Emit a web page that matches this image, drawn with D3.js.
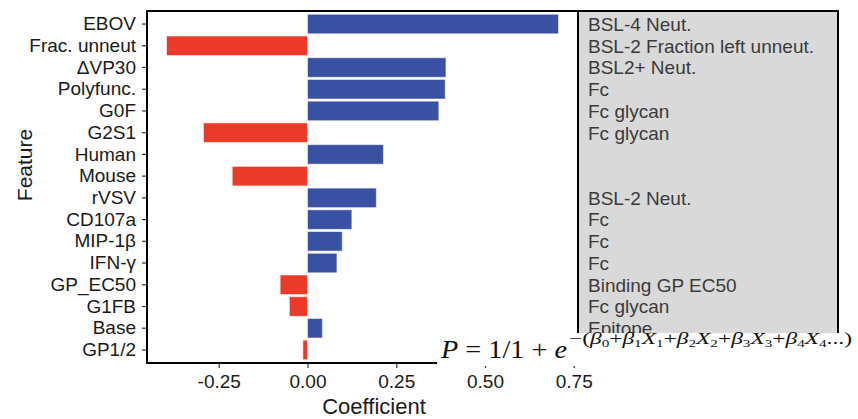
<!DOCTYPE html>
<html>
<head>
<meta charset="utf-8">
<script src="https://cdn.jsdelivr.net/npm/d3@7"></script>
<style>
  body { margin: 0; background: #fff; }
  text { font-family: "Liberation Sans", Arial, sans-serif; }
</style>
</head>
<body>
<div class="chart"></div>
<script>
// features top to bottom, with model coefficient and assay group
const features = ["EBOV", "Frac. unneut", "\u0394VP30", "Polyfunc.", "G0F", "G2S1", "Human", "Mouse",
    "rVSV", "CD107a", "MIP-1\u03b2", "IFN-\u03b3", "GP_EC50", "G1FB", "Base", "GP1/2"];
const coefficients = [0.707, -0.397, 0.390, 0.388, 0.370, -0.293, 0.214, -0.212,
    0.194, 0.125, 0.098, 0.083, -0.077, -0.051, 0.042, -0.013];
const groups = ["BSL-4 Neut.", "BSL-2 Fraction left unneut.", "BSL2+ Neut.", "Fc", "Fc glycan", "Fc glycan", "", "",
    "BSL-2 Neut.", "Fc", "Fc", "Fc", "Binding GP EC50", "Fc glycan", "Epitope", ""];
const xTicks = [-0.25, 0, 0.25, 0.5, 0.75];

const width = 858;
const height = 419;
const plotLeft = 147, plotRight = 578, plotTop = 11, plotBottom = 363;

const svg = d3.select("div.chart")
    .append("svg")
    .attr("width", width)
    .attr("height", height);

const x = d3.scaleLinear().domain([-0.452, 0.762]).range([plotLeft, plotRight]);
const y = d3.scaleBand().domain(features).range([plotTop, plotBottom]).paddingInner(0.1).paddingOuter(0.15);

const rows = features.map((f, i) => ({ feature: f, value: coefficients[i], group: groups[i] }));

// bars
svg.append("g")
    .selectAll("rect")
    .data(rows)
    .enter()
    .append("rect")
    .attr("x", d => x(Math.min(0, d.value)))
    .attr("y", d => y(d.feature))
    .attr("width", d => Math.abs(x(d.value) - x(0)))
    .attr("height", y.bandwidth())
    .attr("fill", d => d.value < 0 ? "#ec3a2a" : "#3a51a3")
    .attr("stroke", "#ffffff")
    .attr("stroke-opacity", 0.55)
    .attr("stroke-width", 1);

// axes
const xAxis = svg.append("g")
    .attr("transform", `translate(0,${plotBottom})`)
    .call(d3.axisBottom(x).tickValues(xTicks).tickFormat(d => d.toFixed(2)).tickSize(5).tickPadding(7));
xAxis.select(".domain").remove();
xAxis.selectAll("line").attr("stroke", "#333").attr("stroke-width", 1.2);
xAxis.selectAll("text").attr("font-size", 19).attr("fill", "#1a1a1a").style("font-family", "Liberation Sans, Arial, sans-serif");

const yAxis = svg.append("g")
    .attr("transform", `translate(${plotLeft},0)`)
    .call(d3.axisLeft(y).tickSize(5).tickPadding(6));
yAxis.select(".domain").remove();
yAxis.selectAll("line").attr("stroke", "#333").attr("stroke-width", 1.2);
yAxis.selectAll("text").attr("font-size", 19).attr("fill", "#1a1a1a").style("font-family", "Liberation Sans, Arial, sans-serif");

// panel border
svg.append("rect")
    .attr("x", plotLeft)
    .attr("y", plotTop)
    .attr("width", plotRight - plotLeft)
    .attr("height", plotBottom - plotTop)
    .attr("fill", "none")
    .attr("stroke", "#000")
    .attr("stroke-width", 2);

// group annotation box, clipped where the formula image sits on it
svg.append("clipPath").attr("id", "boxclip")
    .append("rect").attr("x", plotRight - 2).attr("y", 0).attr("width", 300).attr("height", 333);

const box = svg.append("g").attr("clip-path", "url(#boxclip)");
box.append("rect")
    .attr("x", plotRight)
    .attr("y", plotTop)
    .attr("width", 260)
    .attr("height", 340)
    .attr("fill", "#d9d9d9")
    .attr("stroke", "#000")
    .attr("stroke-width", 2);

box.append("g")
    .selectAll("text")
    .data(rows)
    .enter()
    .append("text")
    .attr("x", 588)
    .attr("y", d => y(d.feature) + y.bandwidth() / 2)
    .attr("dy", "0.36em")
    .attr("font-size", 19)
    .attr("fill", "#3a3a3a")
    .text(d => d.group);

// axis titles
svg.append("text")
    .attr("x", 374)
    .attr("y", 414)
    .attr("text-anchor", "middle")
    .attr("font-size", 22)
    .attr("fill", "#1a1a1a")
    .text("Coefficient");

svg.append("text")
    .attr("transform", "translate(32,165) rotate(-90)")
    .attr("text-anchor", "middle")
    .attr("font-size", 21)
    .attr("fill", "#1a1a1a")
    .text("Feature");

// pasted formula, white background covers the box corner
svg.append("rect")
    .attr("x", 437)
    .attr("y", 333)
    .attr("width", width - 437)
    .attr("height", 33)
    .attr("fill", "#fff");

const serif = "'Liberation Serif', 'DejaVu Serif', serif";
const main = svg.append("text")
    .attr("x", 441)
    .attr("y", 358)
    .attr("font-size", 25)
    .attr("fill", "#111")
    .style("font-family", serif)
    .attr("textLength", 126)
    .attr("lengthAdjust", "spacingAndGlyphs");
main.append("tspan").attr("font-style", "italic").text("P");
main.append("tspan").text(" = 1/1 + ");
main.append("tspan").attr("font-style", "italic").text("e");

// exponent: pieces of [text, italic, subscript]
const expoParts = [["\u2212(", false, false],
    ["\u03b2", true, false], ["0", false, true], ["+", false, false],
    ["\u03b2", true, false], ["1", false, true], ["X", true, false], ["1", false, true], ["+", false, false],
    ["\u03b2", true, false], ["2", false, true], ["X", true, false], ["2", false, true], ["+", false, false],
    ["\u03b2", true, false], ["3", false, true], ["X", true, false], ["3", false, true], ["+", false, false],
    ["\u03b2", true, false], ["4", false, true], ["X", true, false], ["4", false, true], ["...)", false, false]];

const expo = svg.append("text")
    .attr("x", 569)
    .attr("y", 344)
    .attr("font-size", 17)
    .attr("fill", "#111")
    .style("font-family", serif)
    .attr("textLength", 283)
    .attr("lengthAdjust", "spacingAndGlyphs");
let shifted = false;
expoParts.forEach(p => {
    const t = expo.append("tspan").text(p[0]);
    if (p[1]) t.attr("font-style", "italic");
    if (p[2]) t.attr("font-size", 11);
    if (p[2] && !shifted) { t.attr("dy", 3); shifted = true; }
    else if (!p[2] && shifted) { t.attr("dy", -3); shifted = false; }
});
</script>
</body>
</html>
